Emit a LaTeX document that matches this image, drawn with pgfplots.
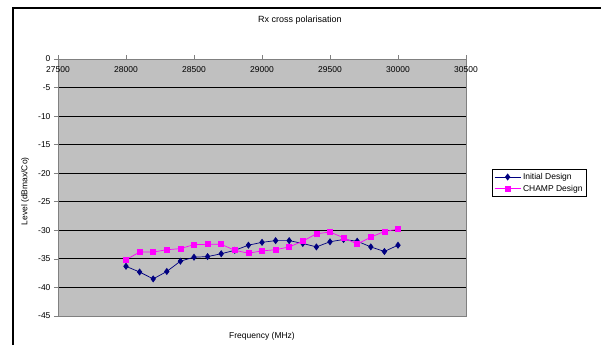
\documentclass[border=0pt]{standalone}
\usepackage{fontspec}
\setmainfont{Liberation Sans}
\usepackage{pgfplots}
\pgfplotsset{compat=1.18}
\definecolor{navy}{HTML}{000080}
\definecolor{champ}{HTML}{FF00FF}
\definecolor{plotgrey}{HTML}{C0C0C0}
\definecolor{bordergrey}{HTML}{808080}
\begin{document}
\begin{tikzpicture}
\useasboundingbox (0,0) rectangle (601pt,-345pt);
\draw[line width=2pt] (13pt,-345pt) -- (13pt,-8pt) -- (601pt,-8pt);
\node[font=\fontsize{9}{10}\selectfont] at (300pt,-20pt) {Rx cross polarisation};
\begin{axis}[
  at={(58pt,-316pt)}, anchor=south west,
  scale only axis, width=408pt, height=257pt,
  xmin=27500, xmax=30500, ymin=-45, ymax=0,
  xtick={27500,28000,...,30500}, ytick={-45,-40,...,0},
  scaled x ticks=false,
  xtick pos=upper, ytick pos=left, xticklabel pos=upper,
  tick align=outside, major tick length=4pt,
  tick style={bordergrey, line width=0.7pt},
  axis line style={bordergrey, line width=0.8pt},
  axis background/.style={fill=plotgrey},
  ymajorgrids, major grid style={black, line width=0.8pt},
  /pgf/number format/assume math mode=true,
  /pgf/number format/set thousands separator={},
  tick label style={font=\fontsize{8.5}{10}\selectfont},
  xticklabel style={anchor=north, yshift=-8pt},
  xlabel={Frequency (MHz)},
  xlabel style={at={(axis description cs:0.5,0)}, anchor=north, yshift=-13pt, font=\fontsize{8.5}{10}\selectfont},
  ylabel={Level (dBmax/Co)},
  ylabel style={at={(axis description cs:-0.062,0.485)}, anchor=south, font=\fontsize{8.5}{10}\selectfont},
  legend style={at={(1.064,0.572)}, anchor=north west, draw=black, fill=white, font=\fontsize{8.5}{10}\selectfont, inner sep=2pt, row sep=0pt},
  legend cell align=left,
  legend image code/.code={\draw[mark repeat=2,mark phase=2,#1] plot coordinates {(0pt,0pt)(13pt,0pt)(26pt,0pt)};},
]
\addplot[navy, line width=0.7pt, mark=diamond*, mark size=3pt, mark options={fill=navy, draw=navy}] coordinates {
(28000,-36.3) (28100,-37.3) (28200,-38.5) (28300,-37.2) (28400,-35.4)
(28500,-34.7) (28600,-34.6) (28700,-34.1) (28800,-33.5) (28900,-32.6)
(29000,-32.1) (29100,-31.8) (29200,-31.8) (29300,-32.3) (29400,-32.9)
(29500,-32.0) (29600,-31.6) (29700,-31.9) (29800,-32.9) (29900,-33.7)
(30000,-32.6)};
\addplot[champ, line width=0.7pt, mark=square*, mark size=2.5pt, mark options={fill=champ, draw=champ}] coordinates {
(28000,-35.15) (28100,-33.8) (28200,-33.8) (28300,-33.4) (28400,-33.2)
(28500,-32.5) (28600,-32.45) (28700,-32.45) (28800,-33.5) (28900,-34.0)
(29000,-33.6) (29100,-33.4) (29200,-32.9) (29300,-31.9) (29400,-30.6)
(29500,-30.3) (29600,-31.3) (29700,-32.4) (29800,-31.2) (29900,-30.2)
(30000,-29.8)};
\legend{Initial Design, CHAMP Design}
\end{axis}
\end{tikzpicture}
\end{document}
